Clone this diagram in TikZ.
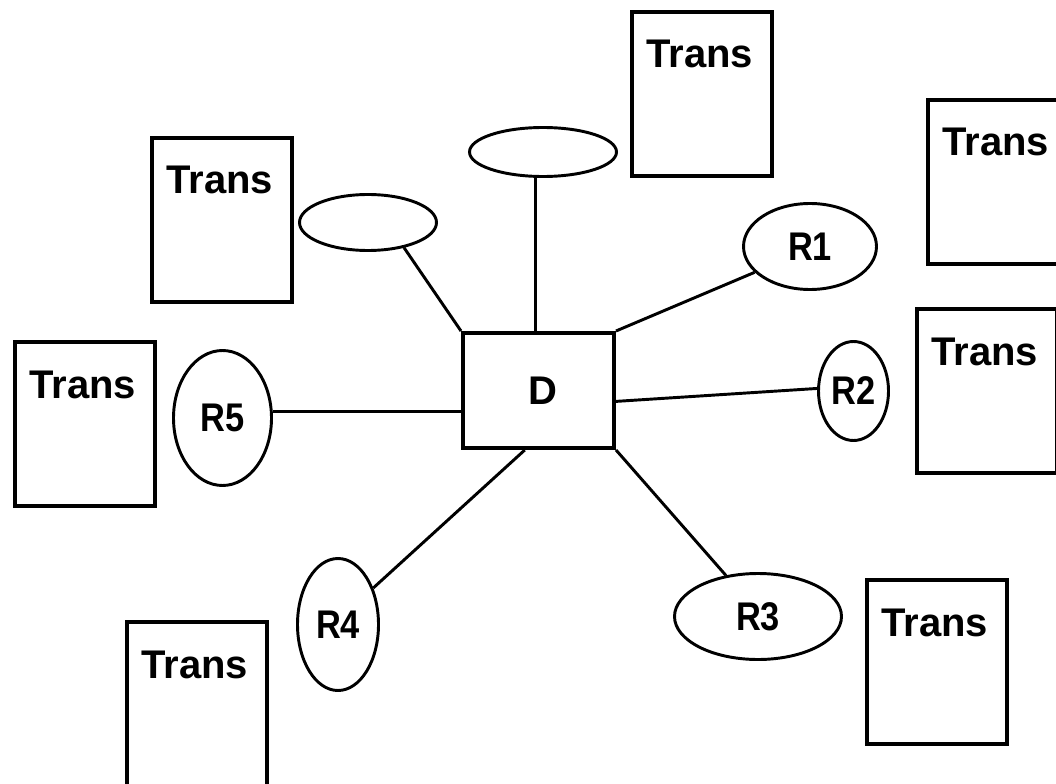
\documentclass[tikz,border=0pt]{standalone}
\usepackage{fontspec}
\setmainfont{Liberation Sans}
\newfontfamily\rfont[FakeStretch=0.86]{Liberation Sans}
\usetikzlibrary{shapes.geometric,calc}
\newcommand\pxu{0.75pt}
\begin{document}
\begin{tikzpicture}[x=0.75pt,y=-0.75pt,
  font=\fontsize{30}{36}\selectfont\bfseries,
  transbox/.style={draw, line width=3pt, rectangle, inner sep=0pt,
    minimum width={140*\pxu}, minimum height={164*\pxu}},
  oval/.style={draw, line width=2.2pt, ellipse, inner sep=0pt},
  hub/.style={draw, line width=3pt, rectangle, inner sep=0pt,
    minimum width={151*\pxu}, minimum height={115*\pxu}},
  link/.style={line width=2.2pt},
  ttl/.style={anchor=base west, inner sep=0pt},
  rlab/.style={label={[font=\fontsize{30}{36}\rfont\bfseries]center:#1}}]
\useasboundingbox (0,0) rectangle (1056,784);
\clip (0,0) rectangle (1056,784);

% transaction boxes
\node[transbox] (T1) at (702,94) {};
\node[transbox] (T2) at (998,182) {};
\node[transbox] (T3) at (222,220) {};
\node[transbox] (T4) at (987,391) {};
\node[transbox] (T5) at (85,424) {};
\node[transbox] (T6) at (937,662) {};
\node[transbox] (T7) at (197,704) {};
\foreach \b in {T1,T2,T3,T4,T5,T6,T7}
  \node[ttl] (\b-txt) at ($(\b.north west)+(16,58)$) {Trans};

% central entity
\node[hub] (D) at (538.5,390.5) {\hspace{6pt}D};

% attribute ovals
\node[oval, minimum width={147*\pxu}, minimum height={49*\pxu}] (E1) at (543,152) {};
\node[oval, minimum width={137*\pxu}, minimum height={56*\pxu}] (E2) at (368,222.5) {};
\node[oval, minimum width={133*\pxu}, minimum height={86*\pxu}, rlab=R1] (R1) at (810,246.5) {};
\node[oval, minimum width={70*\pxu}, minimum height={99*\pxu}, rlab=R2] (R2) at (853.5,391) {};
\node[oval, minimum width={167*\pxu}, minimum height={86*\pxu}, rlab=R3] (R3) at (758,616.5) {};
\node[oval, minimum width={81*\pxu}, minimum height={132*\pxu}, rlab=R4] (R4) at (338,624.5) {};
\node[oval, minimum width={98*\pxu}, minimum height={135*\pxu}, rlab=R5] (R5) at (222.5,418) {};

% connectors
\draw[link] (D.north -| E1.-107) -- (E1.-107);
\draw[link] (D.north west) -- (E2.-35);
\draw[link] (D.north east) -- (R1.-155);
\draw[link] (D.-8.7) -- (R2.176);
\draw[link] (D.south east) -- (R3.128.5);
\draw[link] (D.-103.2) -- (R4.46.2);
\draw[link] (R5.7 -| D.west) -- (R5.7);
\end{tikzpicture}
\end{document}
